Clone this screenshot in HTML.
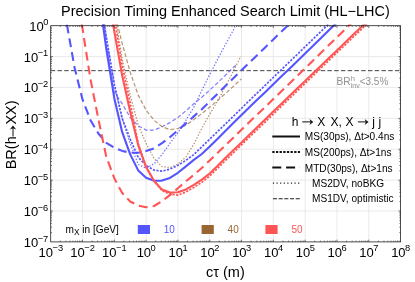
<!DOCTYPE html><html><head><meta charset="utf-8"><style>html,body{margin:0;padding:0;background:#fff;overflow:hidden}body{width:415px;height:282px;position:relative;font-family:"Liberation Sans",sans-serif}</style></head><body><svg width="415" height="282" viewBox="0 0 415 282" style="position:absolute;left:0;top:0;will-change:transform;font-family:'Liberation Sans',sans-serif"><rect width="415" height="282" fill="#fff"/><line x1="82.51" y1="25.70" x2="82.51" y2="241.90" stroke="#e4e4e4" stroke-width="0.8"/><line x1="114.32" y1="25.70" x2="114.32" y2="241.90" stroke="#e4e4e4" stroke-width="0.8"/><line x1="146.13" y1="25.70" x2="146.13" y2="241.90" stroke="#e4e4e4" stroke-width="0.8"/><line x1="177.94" y1="25.70" x2="177.94" y2="241.90" stroke="#e4e4e4" stroke-width="0.8"/><line x1="209.75" y1="25.70" x2="209.75" y2="241.90" stroke="#e4e4e4" stroke-width="0.8"/><line x1="241.55" y1="25.70" x2="241.55" y2="241.90" stroke="#e4e4e4" stroke-width="0.8"/><line x1="273.36" y1="25.70" x2="273.36" y2="241.90" stroke="#e4e4e4" stroke-width="0.8"/><line x1="305.17" y1="25.70" x2="305.17" y2="241.90" stroke="#e4e4e4" stroke-width="0.8"/><line x1="336.98" y1="25.70" x2="336.98" y2="241.90" stroke="#e4e4e4" stroke-width="0.8"/><line x1="368.79" y1="25.70" x2="368.79" y2="241.90" stroke="#e4e4e4" stroke-width="0.8"/><line x1="50.70" y1="56.59" x2="400.60" y2="56.59" stroke="#e4e4e4" stroke-width="0.8"/><line x1="50.70" y1="87.47" x2="400.60" y2="87.47" stroke="#e4e4e4" stroke-width="0.8"/><line x1="50.70" y1="118.36" x2="400.60" y2="118.36" stroke="#e4e4e4" stroke-width="0.8"/><line x1="50.70" y1="149.24" x2="400.60" y2="149.24" stroke="#e4e4e4" stroke-width="0.8"/><line x1="50.70" y1="180.13" x2="400.60" y2="180.13" stroke="#e4e4e4" stroke-width="0.8"/><line x1="50.70" y1="211.01" x2="400.60" y2="211.01" stroke="#e4e4e4" stroke-width="0.8"/><clipPath id="c"><rect x="50.70" y="24.50" width="349.90" height="217.40"/></clipPath><g clip-path="url(#c)" fill="none" stroke-linejoin="round"><line x1="50.7" y1="70.67" x2="400.6" y2="70.67" stroke="#444" stroke-width="1" stroke-dasharray="4.5 2.25"/><path d="M104.2 23.2 L104.6 25.6 L106.3 37.1 L114.3 84.2 L122.2 118.4 L130.2 143.8 L138.2 164.4 L146.1 168.3 L154.1 163.8 L162.0 154.7 L169.9 143.4 L177.9 132.7 L185.9 120.2 L193.8 107.3 L201.8 90.5 L209.7 74.5 L217.7 59.1 L225.6 44.1 L233.6 29.7 L235.0 27.0" stroke="#5555ff" stroke-width="1.2" stroke-dasharray="1.4 1.7" opacity="0.85"/><path d="M103.3 23.2 L103.6 25.6 L106.3 45.2 L114.3 92.3 L122.2 103.6 L130.2 117.5 L138.2 125.8 L146.1 130.1 L154.1 130.1 L162.0 126.8 L169.9 122.6 L177.9 117.5 L185.9 110.8 L193.8 103.8 L201.8 97.2 L209.7 90.2 L217.7 82.7 L225.6 75.0 L233.6 67.3 L236.4 64.6" stroke="#5555ff" stroke-width="1.2" stroke-dasharray="4 2.2" opacity="0.75"/><path d="M116.4 23.2 L116.8 25.6 L122.2 59.1 L130.2 95.2 L138.2 125.1 L146.1 143.4 L154.1 158.6 L162.0 166.7 L169.9 167.5 L177.9 164.0 L185.9 157.0 L193.8 144.1 L201.8 128.4 L209.7 114.1 L217.7 100.9 L225.6 86.1 L233.6 70.6 L240.9 56.3" stroke="#996633" stroke-width="1.2" stroke-dasharray="1.4 1.7" opacity="0.75"/><path d="M117.2 23.2 L117.8 25.6 L122.2 43.5 L130.2 72.2 L138.2 95.1 L146.1 110.2 L154.1 120.3 L162.0 126.6 L169.9 129.7 L177.9 128.5 L185.9 125.1 L193.8 119.6 L201.8 113.6 L209.7 107.2 L217.7 100.4 L225.6 93.4 L233.6 86.1 L241.4 78.9" stroke="#996633" stroke-width="1.2" stroke-dasharray="4 2.2" opacity="0.7"/><path d="M66.7 23.2 L67.1 25.6 L74.6 67.8 L82.5 99.4 L90.5 120.3 L98.4 133.5 L106.3 142.9 L114.3 147.7 L122.2 150.9 L130.2 152.7 L138.2 152.8 L146.1 151.0 L154.1 148.3 L162.0 143.1 L169.9 137.2 L177.9 130.3 L185.9 123.4 L193.8 116.4 L201.8 109.2 L209.7 101.5 L217.7 93.6 L225.6 85.8 L233.6 78.0 L241.5 70.3 L249.4 62.6 L257.4 54.9 L265.4 47.2 L273.3 39.5 L281.2 31.8 L287.7 25.6 L290.2 23.2" stroke="#5555ff" stroke-width="2.1" stroke-dasharray="8.87 5.12" stroke-dashoffset="-1.45"/><path d="M81.6 23.2 L82.0 25.6 L82.5 28.7 L90.5 79.3 L98.4 119.2 L106.3 156.8 L114.3 178.2 L122.2 193.0 L130.2 201.5 L138.2 205.5 L146.1 207.2 L154.1 206.0 L162.0 201.2 L169.9 195.2 L177.9 188.2 L185.9 181.4 L193.8 174.9 L201.8 168.0 L209.7 160.4 L217.7 152.8 L225.6 145.1 L233.6 137.4 L241.5 129.7 L249.4 122.0 L257.4 114.4 L265.4 106.8 L273.3 99.1 L281.2 91.4 L289.2 83.7 L297.2 76.0 L305.1 68.2 L313.1 60.5 L321.0 52.8 L328.9 45.0 L336.9 37.3 L344.9 29.5 L348.9 25.6 L351.4 23.2" stroke="#ff5555" stroke-width="2.1" stroke-dasharray="8.87 5.12" stroke-dashoffset="-1.0"/><path d="M104.2 23.2 L104.6 25.6 L106.3 37.1 L114.3 84.2 L122.2 118.5 L130.2 139.2 L138.2 157.3 L146.1 165.6 L154.1 170.1 L162.0 171.2 L169.9 169.1 L177.9 165.4 L185.9 160.4 L193.8 154.5 L201.8 146.8 L209.7 139.1 L217.7 131.4 L225.6 123.7 L233.6 116.0 L241.5 108.3 L249.4 100.6 L257.4 92.9 L265.4 85.2 L273.3 77.5 L281.2 69.9 L289.2 62.2 L297.2 54.5 L305.1 46.8 L313.1 39.1 L321.0 31.4 L327.0 25.6 L329.5 23.2" stroke="#5555ff" stroke-width="1.7" stroke-dasharray="2.2 1.4"/><path d="M115.2 23.2 L115.6 25.6 L122.2 65.6 L130.2 103.0 L138.2 143.6 L146.1 167.0 L154.1 181.2 L162.0 190.6 L169.9 194.3 L177.9 195.1 L185.9 192.0 L193.8 187.5 L201.8 182.3 L209.7 176.0 L217.7 168.3 L225.6 160.3 L233.6 152.6 L241.5 144.9 L249.4 137.2 L257.4 129.5 L265.4 121.8 L273.3 114.1 L281.2 106.4 L289.2 98.8 L297.2 91.1 L305.1 83.5 L313.1 75.8 L321.0 68.2 L328.9 60.5 L336.9 52.8 L344.9 45.2 L352.8 37.5 L360.8 29.9 L365.2 25.6 L367.7 23.2" stroke="#ff5555" stroke-width="1.7" stroke-dasharray="2.2 1.4"/><path d="M102.8 23.2 L103.1 25.6 L106.3 48.8 L114.3 98.2 L122.2 132.2 L130.2 154.4 L138.2 170.4 L146.1 177.8 L154.1 180.8 L162.0 180.6 L169.9 177.9 L177.9 172.8 L185.9 166.4 L193.8 159.9 L201.8 154.0 L209.7 146.6 L217.7 138.7 L225.6 130.8 L233.6 122.8 L241.5 114.9 L249.4 107.2 L257.4 99.6 L265.4 92.0 L273.3 84.3 L281.2 76.6 L289.2 68.9 L297.2 61.2 L305.1 53.4 L313.1 45.7 L321.0 38.0 L328.9 30.3 L333.8 25.6 L336.3 23.2" stroke="#5555ff" stroke-width="2.1"/><path d="M112.9 23.2 L113.3 25.6 L114.3 31.4 L122.2 75.6 L130.2 111.8 L138.2 145.1 L146.1 167.1 L154.1 181.0 L162.0 189.6 L169.9 192.6 L177.9 192.2 L185.9 189.4 L193.8 184.9 L201.8 179.7 L209.7 173.5 L217.7 165.8 L225.6 157.8 L233.6 150.1 L241.5 142.4 L249.4 134.7 L257.4 127.0 L265.4 119.3 L273.3 111.6 L281.2 103.9 L289.2 96.3 L297.2 88.6 L305.1 81.0 L313.1 73.3 L321.0 65.7 L328.9 58.1 L336.9 50.4 L344.9 42.8 L352.8 35.1 L360.8 27.5 L362.7 25.6 L365.2 23.2" stroke="#ff5555" stroke-width="2.1"/></g><rect x="50.70" y="25.70" width="349.90" height="216.20" fill="none" stroke="#222" stroke-width="0.8"/><path d="M60.28 241.90v-1.3M60.28 25.70v1.3M65.88 241.90v-1.3M65.88 25.70v1.3M69.85 241.90v-1.3M69.85 25.70v1.3M72.93 241.90v-1.3M72.93 25.70v1.3M75.45 241.90v-1.3M75.45 25.70v1.3M77.58 241.90v-1.3M77.58 25.70v1.3M79.43 241.90v-1.3M79.43 25.70v1.3M81.05 241.90v-1.3M81.05 25.70v1.3M82.51 241.90v-2.2M82.51 25.70v2.2M92.08 241.90v-1.3M92.08 25.70v1.3M97.69 241.90v-1.3M97.69 25.70v1.3M101.66 241.90v-1.3M101.66 25.70v1.3M104.74 241.90v-1.3M104.74 25.70v1.3M107.26 241.90v-1.3M107.26 25.70v1.3M109.39 241.90v-1.3M109.39 25.70v1.3M111.24 241.90v-1.3M111.24 25.70v1.3M112.86 241.90v-1.3M112.86 25.70v1.3M114.32 241.90v-2.2M114.32 25.70v2.2M123.89 241.90v-1.3M123.89 25.70v1.3M129.49 241.90v-1.3M129.49 25.70v1.3M133.47 241.90v-1.3M133.47 25.70v1.3M136.55 241.90v-1.3M136.55 25.70v1.3M139.07 241.90v-1.3M139.07 25.70v1.3M141.20 241.90v-1.3M141.20 25.70v1.3M143.04 241.90v-1.3M143.04 25.70v1.3M144.67 241.90v-1.3M144.67 25.70v1.3M146.13 241.90v-2.2M146.13 25.70v2.2M155.70 241.90v-1.3M155.70 25.70v1.3M161.30 241.90v-1.3M161.30 25.70v1.3M165.28 241.90v-1.3M165.28 25.70v1.3M168.36 241.90v-1.3M168.36 25.70v1.3M170.88 241.90v-1.3M170.88 25.70v1.3M173.01 241.90v-1.3M173.01 25.70v1.3M174.85 241.90v-1.3M174.85 25.70v1.3M176.48 241.90v-1.3M176.48 25.70v1.3M177.94 241.90v-2.2M177.94 25.70v2.2M187.51 241.90v-1.3M187.51 25.70v1.3M193.11 241.90v-1.3M193.11 25.70v1.3M197.09 241.90v-1.3M197.09 25.70v1.3M200.17 241.90v-1.3M200.17 25.70v1.3M202.69 241.90v-1.3M202.69 25.70v1.3M204.82 241.90v-1.3M204.82 25.70v1.3M206.66 241.90v-1.3M206.66 25.70v1.3M208.29 241.90v-1.3M208.29 25.70v1.3M209.75 241.90v-2.2M209.75 25.70v2.2M219.32 241.90v-1.3M219.32 25.70v1.3M224.92 241.90v-1.3M224.92 25.70v1.3M228.90 241.90v-1.3M228.90 25.70v1.3M231.98 241.90v-1.3M231.98 25.70v1.3M234.50 241.90v-1.3M234.50 25.70v1.3M236.63 241.90v-1.3M236.63 25.70v1.3M238.47 241.90v-1.3M238.47 25.70v1.3M240.10 241.90v-1.3M240.10 25.70v1.3M241.55 241.90v-2.2M241.55 25.70v2.2M251.13 241.90v-1.3M251.13 25.70v1.3M256.73 241.90v-1.3M256.73 25.70v1.3M260.71 241.90v-1.3M260.71 25.70v1.3M263.79 241.90v-1.3M263.79 25.70v1.3M266.31 241.90v-1.3M266.31 25.70v1.3M268.44 241.90v-1.3M268.44 25.70v1.3M270.28 241.90v-1.3M270.28 25.70v1.3M271.91 241.90v-1.3M271.91 25.70v1.3M273.36 241.90v-2.2M273.36 25.70v2.2M282.94 241.90v-1.3M282.94 25.70v1.3M288.54 241.90v-1.3M288.54 25.70v1.3M292.51 241.90v-1.3M292.51 25.70v1.3M295.60 241.90v-1.3M295.60 25.70v1.3M298.12 241.90v-1.3M298.12 25.70v1.3M300.25 241.90v-1.3M300.25 25.70v1.3M302.09 241.90v-1.3M302.09 25.70v1.3M303.72 241.90v-1.3M303.72 25.70v1.3M305.17 241.90v-2.2M305.17 25.70v2.2M314.75 241.90v-1.3M314.75 25.70v1.3M320.35 241.90v-1.3M320.35 25.70v1.3M324.32 241.90v-1.3M324.32 25.70v1.3M327.41 241.90v-1.3M327.41 25.70v1.3M329.93 241.90v-1.3M329.93 25.70v1.3M332.05 241.90v-1.3M332.05 25.70v1.3M333.90 241.90v-1.3M333.90 25.70v1.3M335.53 241.90v-1.3M335.53 25.70v1.3M336.98 241.90v-2.2M336.98 25.70v2.2M346.56 241.90v-1.3M346.56 25.70v1.3M352.16 241.90v-1.3M352.16 25.70v1.3M356.13 241.90v-1.3M356.13 25.70v1.3M359.22 241.90v-1.3M359.22 25.70v1.3M361.73 241.90v-1.3M361.73 25.70v1.3M363.86 241.90v-1.3M363.86 25.70v1.3M365.71 241.90v-1.3M365.71 25.70v1.3M367.34 241.90v-1.3M367.34 25.70v1.3M368.79 241.90v-2.2M368.79 25.70v2.2M378.37 241.90v-1.3M378.37 25.70v1.3M383.97 241.90v-1.3M383.97 25.70v1.3M387.94 241.90v-1.3M387.94 25.70v1.3M391.02 241.90v-1.3M391.02 25.70v1.3M393.54 241.90v-1.3M393.54 25.70v1.3M395.67 241.90v-1.3M395.67 25.70v1.3M397.52 241.90v-1.3M397.52 25.70v1.3M399.14 241.90v-1.3M399.14 25.70v1.3M50.70 47.29h1.3M400.60 47.29h-1.3M50.70 41.85h1.3M400.60 41.85h-1.3M50.70 37.99h1.3M400.60 37.99h-1.3M50.70 35.00h1.3M400.60 35.00h-1.3M50.70 32.55h1.3M400.60 32.55h-1.3M50.70 30.48h1.3M400.60 30.48h-1.3M50.70 28.69h1.3M400.60 28.69h-1.3M50.70 27.11h1.3M400.60 27.11h-1.3M50.70 56.59h2.2M400.60 56.59h-2.2M50.70 78.17h1.3M400.60 78.17h-1.3M50.70 72.74h1.3M400.60 72.74h-1.3M50.70 68.88h1.3M400.60 68.88h-1.3M50.70 65.88h1.3M400.60 65.88h-1.3M50.70 63.44h1.3M400.60 63.44h-1.3M50.70 61.37h1.3M400.60 61.37h-1.3M50.70 59.58h1.3M400.60 59.58h-1.3M50.70 58.00h1.3M400.60 58.00h-1.3M50.70 87.47h2.2M400.60 87.47h-2.2M50.70 109.06h1.3M400.60 109.06h-1.3M50.70 103.62h1.3M400.60 103.62h-1.3M50.70 99.76h1.3M400.60 99.76h-1.3M50.70 96.77h1.3M400.60 96.77h-1.3M50.70 94.32h1.3M400.60 94.32h-1.3M50.70 92.26h1.3M400.60 92.26h-1.3M50.70 90.46h1.3M400.60 90.46h-1.3M50.70 88.88h1.3M400.60 88.88h-1.3M50.70 118.36h2.2M400.60 118.36h-2.2M50.70 139.95h1.3M400.60 139.95h-1.3M50.70 134.51h1.3M400.60 134.51h-1.3M50.70 130.65h1.3M400.60 130.65h-1.3M50.70 127.65h1.3M400.60 127.65h-1.3M50.70 125.21h1.3M400.60 125.21h-1.3M50.70 123.14h1.3M400.60 123.14h-1.3M50.70 121.35h1.3M400.60 121.35h-1.3M50.70 119.77h1.3M400.60 119.77h-1.3M50.70 149.24h2.2M400.60 149.24h-2.2M50.70 170.83h1.3M400.60 170.83h-1.3M50.70 165.39h1.3M400.60 165.39h-1.3M50.70 161.53h1.3M400.60 161.53h-1.3M50.70 158.54h1.3M400.60 158.54h-1.3M50.70 156.09h1.3M400.60 156.09h-1.3M50.70 154.03h1.3M400.60 154.03h-1.3M50.70 152.24h1.3M400.60 152.24h-1.3M50.70 150.66h1.3M400.60 150.66h-1.3M50.70 180.13h2.2M400.60 180.13h-2.2M50.70 201.72h1.3M400.60 201.72h-1.3M50.70 196.28h1.3M400.60 196.28h-1.3M50.70 192.42h1.3M400.60 192.42h-1.3M50.70 189.43h1.3M400.60 189.43h-1.3M50.70 186.98h1.3M400.60 186.98h-1.3M50.70 184.91h1.3M400.60 184.91h-1.3M50.70 183.12h1.3M400.60 183.12h-1.3M50.70 181.54h1.3M400.60 181.54h-1.3M50.70 211.01h2.2M400.60 211.01h-2.2M50.70 232.60h1.3M400.60 232.60h-1.3M50.70 227.16h1.3M400.60 227.16h-1.3M50.70 223.30h1.3M400.60 223.30h-1.3M50.70 220.31h1.3M400.60 220.31h-1.3M50.70 217.87h1.3M400.60 217.87h-1.3M50.70 215.80h1.3M400.60 215.80h-1.3M50.70 214.01h1.3M400.60 214.01h-1.3M50.70 212.43h1.3M400.60 212.43h-1.3" stroke="#222" stroke-width="0.6" fill="none"/><text x="50.8" y="256.8" text-anchor="middle" font-size="13" fill="#000">10<tspan font-size="9.3" dy="-5.3" dx="-0.5">−3</tspan></text><text x="82.6" y="256.8" text-anchor="middle" font-size="13" fill="#000">10<tspan font-size="9.3" dy="-5.3" dx="-0.5">−2</tspan></text><text x="114.4" y="256.8" text-anchor="middle" font-size="13" fill="#000">10<tspan font-size="9.3" dy="-5.3" dx="-0.5">−1</tspan></text><text x="146.2" y="256.8" text-anchor="middle" font-size="13" fill="#000">10<tspan font-size="9.3" dy="-5.3" dx="-0.5">0</tspan></text><text x="178.0" y="256.8" text-anchor="middle" font-size="13" fill="#000">10<tspan font-size="9.3" dy="-5.3" dx="-0.5">1</tspan></text><text x="209.8" y="256.8" text-anchor="middle" font-size="13" fill="#000">10<tspan font-size="9.3" dy="-5.3" dx="-0.5">2</tspan></text><text x="241.7" y="256.8" text-anchor="middle" font-size="13" fill="#000">10<tspan font-size="9.3" dy="-5.3" dx="-0.5">3</tspan></text><text x="273.5" y="256.8" text-anchor="middle" font-size="13" fill="#000">10<tspan font-size="9.3" dy="-5.3" dx="-0.5">4</tspan></text><text x="305.3" y="256.8" text-anchor="middle" font-size="13" fill="#000">10<tspan font-size="9.3" dy="-5.3" dx="-0.5">5</tspan></text><text x="337.1" y="256.8" text-anchor="middle" font-size="13" fill="#000">10<tspan font-size="9.3" dy="-5.3" dx="-0.5">6</tspan></text><text x="368.9" y="256.8" text-anchor="middle" font-size="13" fill="#000">10<tspan font-size="9.3" dy="-5.3" dx="-0.5">7</tspan></text><text x="400.7" y="256.8" text-anchor="middle" font-size="13" fill="#000">10<tspan font-size="9.3" dy="-5.3" dx="-0.5">8</tspan></text><text x="48.3" y="30.6" text-anchor="end" font-size="13" fill="#000">10<tspan font-size="9.3" dy="-5.3" dx="-0.5">0</tspan></text><text x="48.3" y="61.5" text-anchor="end" font-size="13" fill="#000">10<tspan font-size="9.3" dy="-5.3" dx="-0.5">−1</tspan></text><text x="48.3" y="92.4" text-anchor="end" font-size="13" fill="#000">10<tspan font-size="9.3" dy="-5.3" dx="-0.5">−2</tspan></text><text x="48.3" y="123.3" text-anchor="end" font-size="13" fill="#000">10<tspan font-size="9.3" dy="-5.3" dx="-0.5">−3</tspan></text><text x="48.3" y="154.1" text-anchor="end" font-size="13" fill="#000">10<tspan font-size="9.3" dy="-5.3" dx="-0.5">−4</tspan></text><text x="48.3" y="185.0" text-anchor="end" font-size="13" fill="#000">10<tspan font-size="9.3" dy="-5.3" dx="-0.5">−5</tspan></text><text x="48.3" y="215.9" text-anchor="end" font-size="13" fill="#000">10<tspan font-size="9.3" dy="-5.3" dx="-0.5">−6</tspan></text><text x="48.3" y="246.8" text-anchor="end" font-size="13" fill="#000">10<tspan font-size="9.3" dy="-5.3" dx="-0.5">−7</tspan></text><text x="225.4" y="16.2" text-anchor="middle" font-size="14.45" fill="#000">Precision Timing Enhanced Search Limit (HL−LHC)</text><text x="225.4" y="276.8" text-anchor="middle" font-size="14.5" fill="#000">cτ (m)</text><g transform="translate(16,-0.7) rotate(-90)" font-size="14.5" fill="#000"><text x="-170" y="0">BR(h</text><path d="M-137.20 -3.00H-127.80" stroke="#111" stroke-width="1.00" fill="none"/><path d="M-126.30 -3.00L-130.10 -6.20L-129.00 -3.00L-130.10 0.20Z" fill="#111"/><text x="-125.3" y="0">XX)</text></g><text x="336.4" y="84.8" font-size="10.2" fill="#909090">BR<tspan font-size="7.6" dy="-4.2" dx="0.3">h</tspan><tspan font-size="7" dy="7" dx="-4.4">inv</tspan><tspan dy="-2.8" font-size="10">&lt;3.5%</tspan></text><g font-size="12" fill="#000"><text x="291.8" y="125.7">h</text><path d="M302.20 121.90H311.80" stroke="#111" stroke-width="1.00" fill="none"/><path d="M313.30 121.90L309.50 118.90L310.60 121.90L309.50 124.90Z" fill="#111"/><text x="317.3" y="125.7">X</text><text x="330.4" y="125.7">X,</text><text x="345.6" y="125.7">X</text><path d="M357.90 121.90H367.00" stroke="#111" stroke-width="1.00" fill="none"/><path d="M368.50 121.90L364.70 118.90L365.80 121.90L364.70 124.90Z" fill="#111"/><text x="372.2" y="125.7">j</text><text x="378.5" y="125.7">j</text></g><line x1="272.3" x2="300" y1="136.5" y2="136.5" stroke="#111" stroke-width="2"/><line x1="272.3" x2="300" y1="152" y2="152" stroke="#111" stroke-width="1.8" stroke-dasharray="2.3 1.35"/><line x1="272.3" x2="300" y1="167.4" y2="167.4" stroke="#111" stroke-width="2" stroke-dasharray="9 4.8"/><line x1="272.9" x2="300" y1="183.1" y2="183.1" stroke="#222" stroke-width="1.2" stroke-dasharray="1.2 2.4"/><line x1="272.9" x2="300" y1="198.7" y2="198.7" stroke="#222" stroke-width="1.1" stroke-dasharray="4.1 1.6"/><text x="304.8" y="139.6" font-size="10.1" fill="#000">MS(30ps), Δt&gt;0.4ns</text><text x="304.8" y="155.6" font-size="10.1" fill="#000">MS(200ps), Δt&gt;1ns</text><text x="304.8" y="171.6" font-size="10.1" fill="#000">MTD(30ps), Δt&gt;1ns</text><text x="312.0" y="186.6" font-size="10.1" fill="#000">MS2DV, noBKG</text><text x="312.0" y="201.8" font-size="10.1" fill="#000">MS1DV, optimistic</text><text x="65.5" y="233" font-size="10.1" fill="#000">m<tspan font-size="8.4" dy="2.2">X</tspan><tspan dy="-2.2"> in [GeV]</tspan></text><rect x="137.8" y="225" width="12.2" height="9" fill="#5555ff"/><text x="163.8" y="233.1" font-size="10" fill="#5555ff">10</text><rect x="201.6" y="225" width="12.2" height="9" fill="#996633"/><text x="227.6" y="233.1" font-size="10" fill="#996633">40</text><rect x="265.4" y="225" width="12.2" height="9" fill="#ff5555"/><text x="291.4" y="233.1" font-size="10" fill="#ff5555">50</text></svg></body></html>
